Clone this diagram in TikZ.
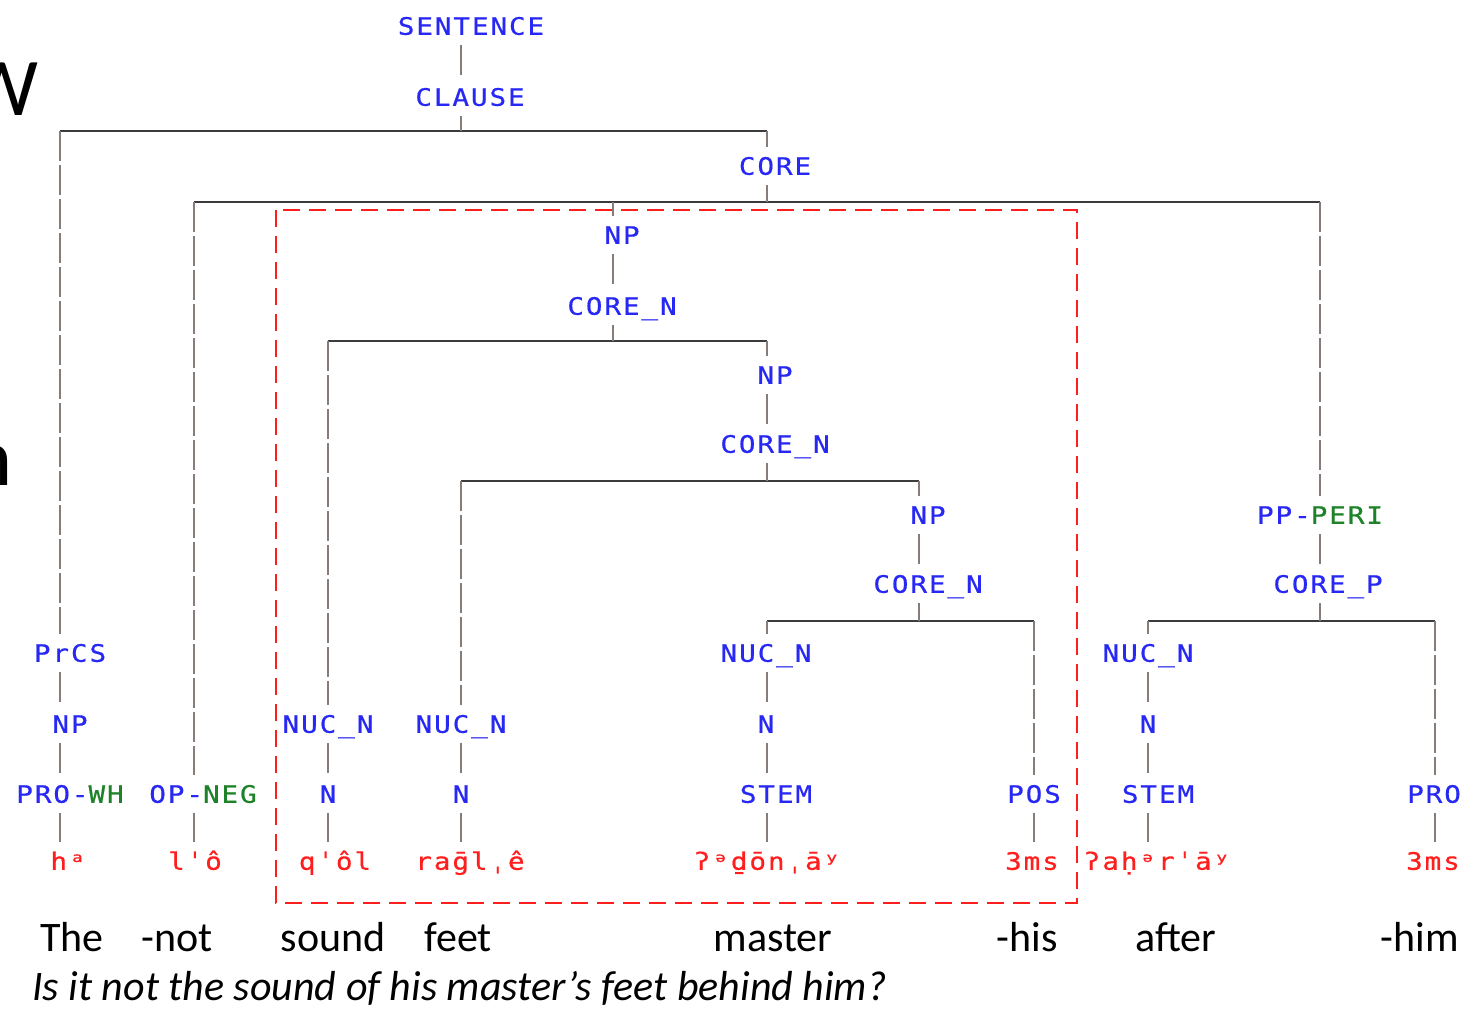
\documentclass[tikz,border=0pt]{standalone}
\usepackage{fontspec}
\setmainfont{Carlito}
\newfontfamily\labfont[FakeStretch=1.15,LetterSpace=8,FakeBold=0.6]{DejaVu Sans Mono}
\definecolor{labblue}{RGB}{40,40,245}
\definecolor{labgreen}{RGB}{30,130,40}
\definecolor{wordred}{RGB}{255,30,30}
\definecolor{hcol}{RGB}{60,60,60}
\definecolor{vcol}{RGB}{135,125,120}
\begin{document}
\begin{tikzpicture}[x=0.5pt,y=-0.5pt,
  lbl/.style={font=\labfont\fontsize{12pt}{12pt}\selectfont, text=labblue, inner xsep=0pt, inner ysep=5pt, text height=8.75pt, text depth=0pt},
  wrd/.style={lbl, text=wordred},
  gl/.style={font=\fontsize{21pt}{22pt}\selectfont, anchor=base, inner sep=0pt},
  hline/.style={draw=hcol, line width=1pt},
  vline/.style={draw=vcol, line width=1pt, dash pattern=on 15pt off 2pt},
  focusbox/.style={draw=wordred, line width=1.2pt, dash pattern=on 8.5pt off 4.5pt}]
\useasboundingbox (0,0) rectangle (1465,1008);
\clip (0,0) rectangle (1465,1008);
\newcommand\gr[1]{\textcolor{labgreen}{#1}}
% column and bar coordinates
\coordinate (xa) at (60,0);   \coordinate (xb) at (194,0);
\coordinate (xc) at (328,0);  \coordinate (xd) at (461,0);
\coordinate (xe) at (613,0);  \coordinate (xf) at (767,0);
\coordinate (xg) at (919,0);  \coordinate (xh) at (1034,0);
\coordinate (xi) at (1148,0); \coordinate (xj) at (1320,0);
\coordinate (xk) at (1435,0);
\coordinate (y1) at (0,131);  \coordinate (y2) at (0,202);
\coordinate (y3) at (0,341);  \coordinate (y4) at (0,481);
\coordinate (y5) at (0,621);
% slide fragments at left edge
\node[font=\fontsize{41pt}{41pt}\selectfont, anchor=base, inner sep=0pt] (fragw) at (2,115) {W};
\node[font=\fontsize{41pt}{41pt}\selectfont, anchor=base, inner sep=0pt] (fragn) at (-9,485) {n};
% labels
\node[lbl] (sent) at (471,26) {SENTENCE};
\node[lbl] (clause) at (470,97) {CLAUSE};
\node[lbl] (core) at (775,166) {CORE};
\node[lbl] (np1) at (622,235) {NP};
\node[lbl] (coren1) at (622,306) {CORE\_N};
\node[lbl] (np2) at (775,375) {NP};
\node[lbl] (coren2) at (775,444) {CORE\_N};
\node[lbl] (np3) at (928,515) {NP};
\node[lbl] (coren3) at (928,584) {CORE\_N};
\node[lbl] (nucn3) at (766,653) {NUC\_N};
\node[lbl] (n3) at (766,724) {N};
\node[lbl] (stem3) at (776,794) {STEM};
\node[wrd] (w3) at (767,861) {ʔᵊḏōnˌāʸ};
\node[lbl] (pos) at (1034,794) {POS};
\node[wrd] (w4) at (1032,861) {3ms};
\node[lbl] (ppperi) at (1320,515) {PP-\gr{PERI}};
\node[lbl] (corep) at (1328,584) {CORE\_P};
\node[lbl] (nucn5) at (1148,653) {NUC\_N};
\node[lbl] (n5) at (1148,724) {N};
\node[lbl] (stem5) at (1158,794) {STEM};
\node[wrd] (w5) at (1157,861) {ʔaḥᵊrˈāʸ};
\node[lbl] (pro) at (1434,794) {PRO};
\node[wrd] (w6) at (1433,861) {3ms};
\node[lbl] (prcs) at (70,653) {PrCS};
\node[lbl] (np0) at (70,724) {NP};
\node[lbl] (prowh) at (70,794) {PRO-\gr{WH}};
\node[wrd] (w0) at (68,861) {hᵃ};
\node[lbl] (opneg) at (203,794) {OP-\gr{NEG}};
\node[wrd] (w1) at (195,861) {lˈô};
\node[lbl] (nucn1) at (328,724) {NUC\_N};
\node[lbl] (n1) at (328,794) {N};
\node[wrd] (w2a) at (335,861) {qˈôl};
\node[lbl] (nucn2) at (461,724) {NUC\_N};
\node[lbl] (n2) at (461,794) {N};
\node[wrd] (w2b) at (470,861) {raḡlˌê};
% bars
\draw[hline] (xa |- y1) -- (xf |- y1);
\draw[hline] (xb |- y2) -- (xj |- y2);
\draw[hline] (xc |- y3) -- (xf |- y3);
\draw[hline] (xd |- y4) -- (xg |- y4);
\draw[hline] (xf |- y5) -- (xh |- y5);
\draw[hline] (xi |- y5) -- (xk |- y5);
% vertical connectors
\draw[vline] (sent.south -| xd) -- (clause.north -| xd);
\draw[vline] (clause.south -| xd) -- (xd |- y1);
\draw[vline] (xa |- y1) -- (prcs.north -| xa);
\draw[vline] (xf |- y1) -- (core.north -| xf);
\draw[vline] (core.south -| xf) -- (xf |- y2);
\draw[vline] (xb |- y2) -- (opneg.north -| xb);
\draw[vline] (xe |- y2) -- (np1.north -| xe);
\draw[vline] (xj |- y2) -- (ppperi.north -| xj);
\draw[vline] (np1.south -| xe) -- (coren1.north -| xe);
\draw[vline] (coren1.south -| xe) -- (xe |- y3);
\draw[vline] (xc |- y3) -- (nucn1.north -| xc);
\draw[vline] (xf |- y3) -- (np2.north -| xf);
\draw[vline] (np2.south -| xf) -- (coren2.north -| xf);
\draw[vline] (coren2.south -| xf) -- (xf |- y4);
\draw[vline] (xd |- y4) -- (nucn2.north -| xd);
\draw[vline] (xg |- y4) -- (np3.north -| xg);
\draw[vline] (np3.south -| xg) -- (coren3.north -| xg);
\draw[vline] (coren3.south -| xg) -- (xg |- y5);
\draw[vline] (xf |- y5) -- (nucn3.north -| xf);
\draw[vline] (xh |- y5) -- (pos.north -| xh);
\draw[vline] (nucn3.south -| xf) -- (n3.north -| xf);
\draw[vline] (n3.south -| xf) -- (stem3.north -| xf);
\draw[vline] (stem3.south -| xf) -- (w3.north -| xf);
\draw[vline] (pos.south -| xh) -- (w4.north -| xh);
\draw[vline] (ppperi.south -| xj) -- (corep.north -| xj);
\draw[vline] (corep.south -| xj) -- (xj |- y5);
\draw[vline] (xi |- y5) -- (nucn5.north -| xi);
\draw[vline] (xk |- y5) -- (pro.north -| xk);
\draw[vline] (nucn5.south -| xi) -- (n5.north -| xi);
\draw[vline] (n5.south -| xi) -- (stem5.north -| xi);
\draw[vline] (stem5.south -| xi) -- (w5.north -| xi);
\draw[vline] (pro.south -| xk) -- (w6.north -| xk);
\draw[vline] (prcs.south -| xa) -- (np0.north -| xa);
\draw[vline] (np0.south -| xa) -- (prowh.north -| xa);
\draw[vline] (prowh.south -| xa) -- (w0.north -| xa);
\draw[vline] (opneg.south -| xb) -- (w1.north -| xb);
\draw[vline] (nucn1.south -| xc) -- (n1.north -| xc);
\draw[vline] (n1.south -| xc) -- (w2a.north -| xc);
\draw[vline] (nucn2.south -| xd) -- (n2.north -| xd);
\draw[vline] (n2.south -| xd) -- (w2b.north -| xd);
% focus box
\draw[focusbox] (276,210) rectangle (1077,903);
% gloss
\node[gl] (g1) at (72,951) {The};
\node[gl] (g2) at (177,951) {-not};
\node[gl] (g3) at (333,951) {sound};
\node[gl] (g4) at (458,951) {feet};
\node[gl] (g5) at (773,951) {master};
\node[gl] (g6) at (1027,951) {-his};
\node[gl] (g7) at (1176,951) {after};
\node[gl] (g8) at (1420,951) {-him};
\node[gl, anchor=base west, font=\fontsize{21pt}{22pt}\selectfont\itshape] (trans) at (32,1000) {Is it not the sound of his master’s feet behind him?};
\end{tikzpicture}
\end{document}
